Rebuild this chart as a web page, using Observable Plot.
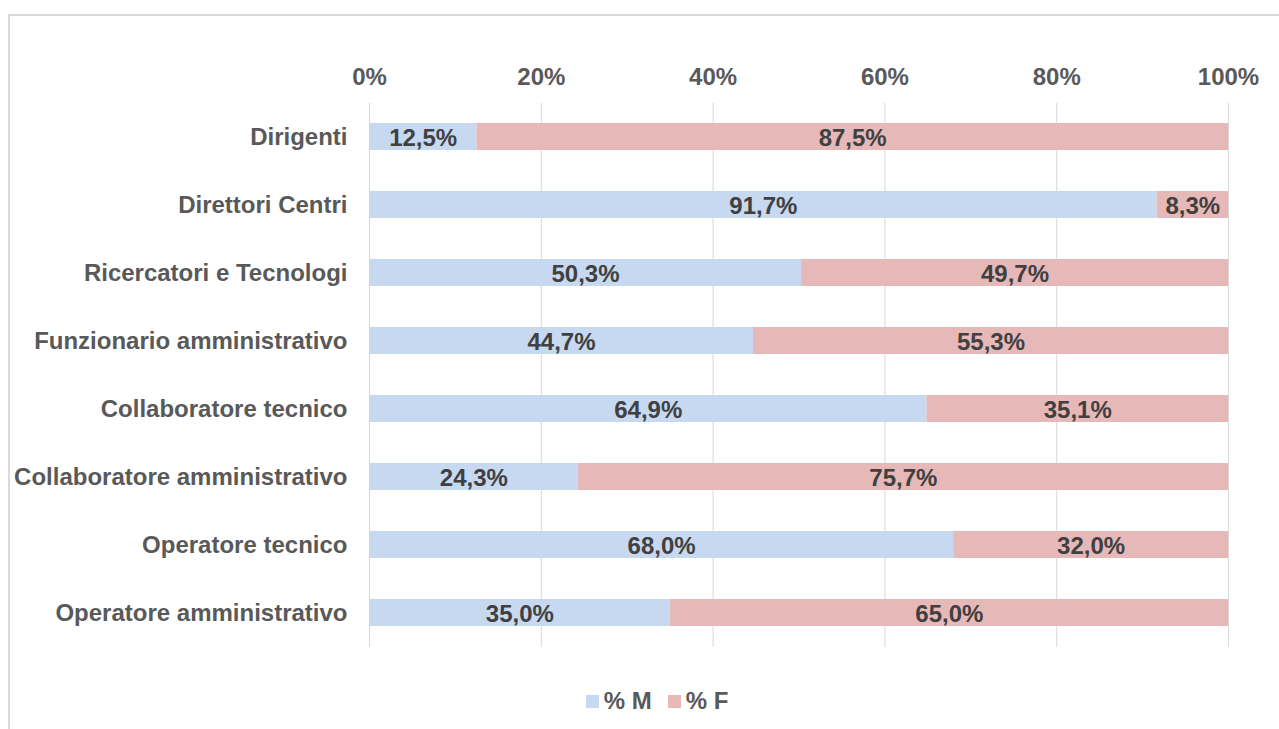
<!DOCTYPE html>
<html>
<head>
<meta charset="utf-8">
<script src="https://cdn.jsdelivr.net/npm/d3@7"></script>
<script src="https://cdn.jsdelivr.net/npm/@observablehq/plot@0.6"></script>
<style>
  html, body { margin: 0; padding: 0; background: #fff; overflow: hidden; }
  #frame { position: absolute; left: 8px; top: 14px; width: 1320px; height: 800px;
    border-left: 2px solid #d9d9d9; border-top: 2px solid #d9d9d9; }
  #legend { position: absolute; left: 8px; top: 671px; width: 1278px; display: flex; justify-content: center;
    align-items: center; font-family: "Liberation Sans", Arial, sans-serif; font-weight: bold;
    font-size: 24px; color: #595959; }
  .item { display: flex; align-items: center; margin: 0 8px; }
  .sw { width: 13px; height: 13px; margin-right: 5px; }
</style>
</head>
<body>
<div id="frame">
  <div id="chart"></div>
  <div id="legend"></div>
</div>
<script>
const categories = [
  "Dirigenti",
  "Direttori Centri",
  "Ricercatori e Tecnologi",
  "Funzionario amministrativo",
  "Collaboratore tecnico",
  "Collaboratore amministrativo",
  "Operatore tecnico",
  "Operatore amministrativo"
];
const seriesNames = ["% M", "% F"];
const valuesM = [12.5, 91.7, 50.3, 44.7, 64.9, 24.3, 68.0, 35.0];
const valuesF = [87.5, 8.3, 49.7, 55.3, 35.1, 75.7, 32.0, 65.0];
const xTicks = [0, 20, 40, 60, 80, 100];
const colors = ["#c6d9f1", "#e6b9b8"];

const data = [];
categories.forEach((c, i) => data.push({cat: c, sex: seriesNames[0], value: valuesM[i]}));
categories.forEach((c, i) => data.push({cat: c, sex: seriesNames[1], value: valuesF[i]}));

const fmt = v => v.toFixed(1).replace(".", ",") + "%";
const font = "'Liberation Sans', Arial, sans-serif";
const fs = 24;

const chart = Plot.plot({
  width: 1269,
  height: 641,
  marginLeft: 359,
  marginRight: 51,
  marginTop: 87,
  marginBottom: 10,
  style: {fontFamily: font, background: "transparent", overflow: "visible"},
  x: {domain: [0, 100], axis: null},
  y: {domain: categories, paddingInner: 0.6, paddingOuter: 0.3, axis: null},
  color: {domain: seriesNames, range: colors},
  marks: [
    Plot.gridX(xTicks, {stroke: "#d9d9d9", strokeOpacity: 1, strokeWidth: 1}),
    Plot.barX(data, Plot.stackX({x: "value", y: "cat", fill: "sex", order: null})),
    Plot.text(data, Plot.stackX({x: "value", y: "cat", z: "sex", order: null, text: d => fmt(d.value),
      fill: "#404040", fontSize: fs, fontWeight: "bold", dy: 1})),
    Plot.axisX({anchor: "top", ticks: xTicks, tickSize: 0, tickPadding: 19, tickFormat: d => d + "%",
      label: null, color: "#595959", fontSize: fs, fontWeight: "bold"}),
    Plot.axisY({tickSize: 0, tickPadding: 22, label: null, color: "#595959", fontSize: fs, fontWeight: "bold"})
  ]
});
document.getElementById("chart").appendChild(chart);

const legend = document.getElementById("legend");
seriesNames.forEach((s, i) => {
  const it = document.createElement("div");
  it.className = "item";
  const sw = document.createElement("div");
  sw.className = "sw";
  sw.style.background = colors[i];
  const t = document.createElement("span");
  t.textContent = s;
  it.appendChild(sw); it.appendChild(t);
  legend.appendChild(it);
});
</script>
</body>
</html>
